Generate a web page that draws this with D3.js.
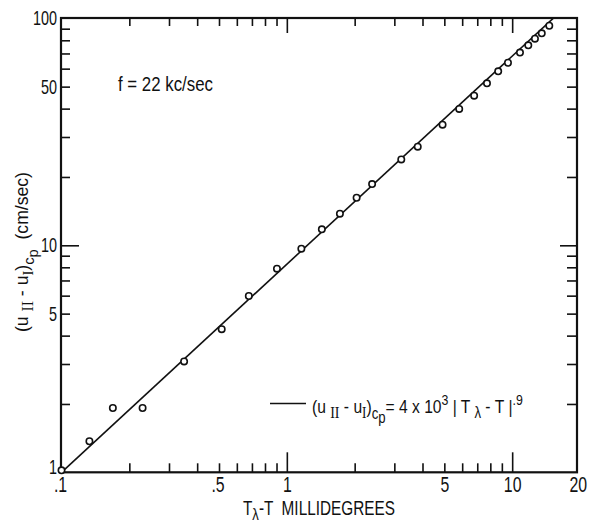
<!DOCTYPE html>
<meta charset="utf-8">
<script src="https://d3js.org/d3.v7.min.js"></script>
<style>
body { margin: 0; background: #fff; }
text { font-family: "Liberation Sans", Arial, sans-serif; fill: #111; }
</style>
<div id="chart"></div>
<script>

// measured points, T_lambda - T (millidegrees) vs (u_II - u_I)_cp (cm/sec)
var tempDiff = [0.1, 0.133, 0.169, 0.229, 0.350, 0.514, 0.678, 0.904, 1.16, 1.43, 1.72, 2.04, 2.39,
                3.22, 3.81, 4.91, 5.82, 6.78, 7.73, 8.67, 9.58, 10.83, 11.79, 12.62, 13.53, 14.61];
var velDiff = [1.02, 1.37, 1.92, 1.92, 3.08, 4.27, 5.98, 7.89, 9.66, 11.76, 13.78, 16.2, 18.6,
               23.9, 27.2, 34.0, 39.9, 45.6, 51.7, 58.4, 63.7, 70.6, 76.0, 81.3, 85.9, 92.7];

// fitted line (u_II - u_I)_cp = 4x10^3 |T_lambda - T|^.9, end points
var fitX = [0.1, 15.2];
var fitY = [1.0, 100];

// ticks
var xMinor = [0.2, 0.3, 0.4, 0.5, 0.6, 0.7, 0.8, 0.9, 2, 3, 4, 5, 6, 7, 8, 9];
var xMajor = [1, 10];
var xLabels = [0.1, 0.5, 1, 5, 10, 20];
var xLabelText = [".1", ".5", "1", "5", "10", "20"];
var yMinor = [2, 3, 4, 5, 6, 7, 8, 9, 20, 30, 40, 50, 60, 70, 80, 90];
var yMajor = [10];
var yLabels = [1, 5, 10, 50, 100];
var yLabelText = ["1", "5", "10", "50", "100"];

var W = 589, H = 523;
var box = {left: 61, top: 18, right: 577, bottom: 472.3};

var svg = d3.select("#chart").append("svg")
    .attr("width", W)
    .attr("height", H);

var x = d3.scaleLog().domain([0.1, 20]).range([61.5, 580]);
var y = d3.scaleLog().domain([1, 100]).range([472.3, 18.3]);

// tick marks on all four sides, pointing inward
function tickAxis(axis, vals, len, tx, ty) {
  var g = svg.append("g")
    .attr("transform", "translate(" + tx + "," + ty + ")")
    .call(axis.tickValues(vals).tickSize(-len).tickFormat(""));
  g.select(".domain").remove();
  g.selectAll("line").attr("stroke", "#111").attr("stroke-width", 1.6);
}
tickAxis(d3.axisBottom(x), xMinor, 9, 0, box.bottom);
tickAxis(d3.axisBottom(x), xMajor, 20, 0, box.bottom);
tickAxis(d3.axisTop(x), xMinor, 8, 0, box.top);
tickAxis(d3.axisTop(x), xMajor, 15, 0, box.top);
tickAxis(d3.axisLeft(y), yMinor, 9, box.left, 0);
tickAxis(d3.axisLeft(y), yMajor, 18, box.left, 0);
tickAxis(d3.axisRight(y), yMinor, 10, box.right, 0);
tickAxis(d3.axisRight(y), yMajor, 17, box.right, 0);

// frame
svg.append("rect")
  .attr("x", box.left).attr("y", box.top)
  .attr("width", box.right - box.left).attr("height", box.bottom - box.top)
  .attr("fill", "none").attr("stroke", "#111").attr("stroke-width", 2.2);

// tick labels (narrow lettering)
var xl = svg.append("g")
  .attr("transform", "translate(0," + box.bottom + ")")
  .call(d3.axisBottom(x).tickValues(xLabels).tickSize(0).tickPadding(4)
    .tickFormat(function(d, i) { return xLabelText[i]; }));
xl.select(".domain").remove();
xl.selectAll("text").attr("font-size", 22).attr("fill", "#111")
  .attr("dx", function(d, i) { return xLabelText[i][0] == "." ? -2 : (d == 20 ? -3 : 0); })
  .attr("transform", "scale(0.72,1)");

var yl = svg.append("g")
  .attr("transform", "translate(" + box.left + ",0)")
  .call(d3.axisLeft(y).tickValues(yLabels).tickSize(0).tickPadding(4)
    .tickFormat(function(d, i) { return yLabelText[i]; }));
yl.select(".domain").remove();
yl.selectAll("text").attr("font-size", 20).attr("fill", "#111")
  .attr("transform", "scale(0.72,1)").attr("x", -5.5)
  .attr("dy", function(d) { return d == 1 ? "0.05em" : "0.32em"; });

// fitted line
var line = d3.line()
  .x(function(d) { return x(d[0]); })
  .y(function(d) { return y(d[1]); });
svg.append("path")
  .datum(d3.zip(fitX, fitY))
  .attr("d", line)
  .attr("fill", "none")
  .attr("stroke", "#111")
  .attr("stroke-width", 1.6);

// data circles
svg.append("g")
  .selectAll("circle")
  .data(d3.zip(tempDiff, velDiff))
  .enter().append("circle")
    .attr("cx", function(d) { return x(d[0]); })
    .attr("cy", function(d) { return y(d[1]); })
    .attr("r", 3.2)
    .attr("fill", "#fff")
    .attr("stroke", "#111")
    .attr("stroke-width", 1.6);

// text with sub/superscripts: segs = [text, baseline shift px, font size, serif?]
function rich(sel, segs) {
  var cur = 0;
  segs.forEach(function(s) {
    var t = sel.append("tspan")
      .attr("dy", s[1] - cur)
      .attr("font-size", s[2])
      .text(s[0]);
    if (s[3]) t.style("font-family", "'Liberation Serif', 'DejaVu Serif', serif");
    cur = s[1];
  });
  return sel;
}

// squeeze a text horizontally to the width it has in the figure
function squeeze(sel, tx, ty, width, rot) {
  sel.attr("x", 0).attr("y", 0).style("white-space", "pre");
  var w = sel.node().getBBox().width;
  sel.attr("transform", "translate(" + tx + "," + ty + ")" + (rot ? " rotate(" + rot + ")" : "") +
    " scale(" + (width / w) + ",1)");
}

var ann = svg.append("text").attr("font-size", 21).text("f = 22 kc/sec");
squeeze(ann, 118, 90.5, 95);

// legend
svg.append("line")
  .attr("x1", 270).attr("x2", 306)
  .attr("y1", 403.5).attr("y2", 403.5)
  .attr("stroke", "#111").attr("stroke-width", 1.6);

var leg = rich(svg.append("text").style("white-space", "pre"), [
  ["(u ", 0, 19], ["II", 5, 17, true], [" - u", 0, 19], ["I", 5, 16, true], [")", 0, 19],
  ["c", 6, 16], ["p", 10, 16], ["= 4 x 10", 0, 19], ["3", -8, 15], [" | T ", 0, 19],
  ["\u03bb", 5, 16], [" - T |", 0, 19], [".9", -8, 15]
]);
squeeze(leg, 312, 413, 211);

// axis titles
var xt = rich(svg.append("text").style("white-space", "pre"), [
  ["T", 0, 20], ["\u03bb", 5, 17], ["-T  MILLIDEGREES", 0, 20]
]);
squeeze(xt, 243, 515, 152);

var yt = rich(svg.append("text").style("white-space", "pre"), [
  ["(u ", 0, 18], ["II", 5, 16, true], [" - u", 0, 18], ["I", 5, 15, true], [")", 0, 18],
  ["c", 6, 15], ["p", 10, 15], ["  (cm/sec)", 0, 18]
]);
squeeze(yt, 28, 332, 160, -90);

</script>
